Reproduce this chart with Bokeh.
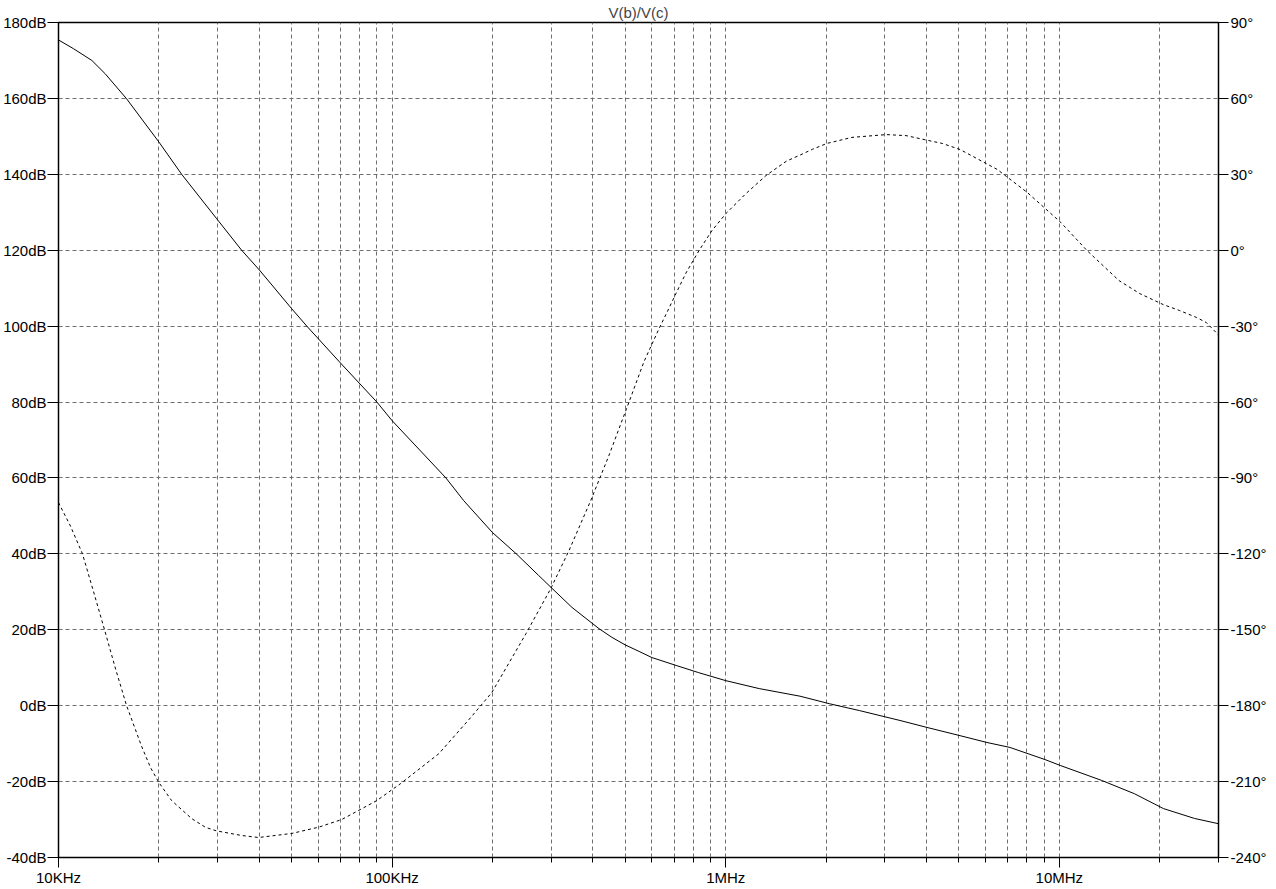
from bokeh.plotting import figure
from bokeh.models import (LinearAxis, Range1d, FixedTicker, PrintfTickFormatter,
                          SingleIntervalTicker, ColumnDataSource)
from bokeh.embed import file_html
from bokeh.resources import INLINE

# ---- data ----
title_text = "V(b)/V(c)"

mag_freq = [10e3, 11.09e3, 12.59e3, 13.8e3, 16e3, 20e3, 23.4e3, 29.8e3, 35.4e3,
            40e3, 50e3, 55.5e3, 70e3, 90e3, 100e3, 145e3, 164e3, 200e3, 235e3,
            275e3, 300e3, 346e3, 381e3, 417e3, 456e3, 500e3, 550e3, 600e3,
            710e3, 830e3, 1.0e6, 1.26e6, 1.67e6, 2.05e6, 2.52e6, 3.33e6, 4.04e6,
            5.04e6, 6.07e6, 7.11e6, 9.06e6, 10.1e6, 13.4e6, 16.8e6, 20.5e6, 25.4e6, 30e6]
mag_db = [175.4, 173.1, 170.0, 166.5, 159.9, 148.5, 140.0, 128.3, 120.0,
          114.8, 104.6, 100.0, 90.3, 80.0, 75.1, 60.0, 54.0, 45.6, 40.1,
          34.3, 31.1, 25.9, 23.0, 20.3, 18.0, 16.0, 14.3, 12.7,
          10.6, 8.7, 6.6, 4.5, 2.5, 0.5, -1.3, -3.9, -5.8,
          -7.9, -9.7, -11.0, -14.2, -15.8, -19.7, -23.2, -27.1, -29.7, -31.1]

ph_freq = [10e3, 10.86e3, 11.8e3, 12.74e3, 13.74e3, 14.83e3, 16e3, 17.74e3, 18.88e3,
           20e3, 21.83e3, 25.06e3, 27.6e3, 29.8e3, 35.4e3, 39.8e3, 50e3, 60.3e3,
           70.6e3, 90e3, 106e3, 138e3, 172e3, 199e3, 252e3, 299e3, 339e3, 394e3,
           447e3, 513e3, 569e3, 631e3, 667e3, 710e3, 760e3, 832e3, 910e3, 1.0e6,
           1.15e6, 1.32e6, 1.52e6, 1.67e6, 1.82e6, 2.01e6, 2.39e6, 3.03e6, 3.47e6,
           4.04e6, 4.46e6, 5.04e6, 6.52e6, 8.02e6, 10.1e6, 12.1e6, 13.5e6, 15.1e6,
           17.4e6, 20.5e6, 22.9e6, 25.8e6, 27.6e6, 30e6]
ph_deg = [-99.7, -109.0, -120.0, -135.0, -150.0, -165.5, -180.0, -196.0, -204.5,
          -210.4, -217.5, -224.6, -228.1, -229.5, -231.3, -232.1, -230.5, -228.0,
          -225.0, -217.5, -210.8, -199.0, -184.7, -174.8, -151.5, -133.7, -118.7, -98.9,
          -81.0, -60.0, -44.0, -31.0, -24.5, -17.0, -9.0, -0.1, 7.8, 14.4,
          22.4, 29.5, 35.2, 37.6, 39.9, 42.2, 44.6, 45.7, 45.3,
          43.4, 42.2, 39.8, 31.9, 22.8, 11.0, -0.1, -6.0, -12.0,
          -17.1, -21.5, -23.8, -26.6, -28.6, -33.5]

x_major = [1e4, 1e5, 1e6, 1e7]
x_minor = [m * d for d in (1e4, 1e5, 1e6) for m in range(2, 10)] + [2e7, 3e7]
x_labels = {10000: "10KHz", 100000: "100KHz", 1000000: "1MHz", 10000000: "10MHz"}

FONT = "Liberation Sans"
GRID = "#6e6e6e"

p = figure(frame_width=1160, frame_height=835, x_axis_type="log",
           x_range=(1e4, 3e7), y_range=(-40, 180),
           output_backend="svg", toolbar_location=None,
           min_border_left=55, min_border_right=0, min_border_top=18, min_border_bottom=0,
           title=title_text)
p.title.align = "center"
p.title.text_font = FONT
p.title.text_font_size = "15px"
p.title.text_font_style = "normal"
p.title.standoff = 3
p.outline_line_color = "black"
p.outline_line_width = 1.5
p.background_fill_color = "white"
p.border_fill_color = "white"

p.extra_y_ranges = {"phase": Range1d(-240, 90)}

# x axis
xa = p.xaxis[0]
xa.ticker = FixedTicker(ticks=x_major, minor_ticks=x_minor)
xa.major_label_overrides = x_labels
xa.major_tick_out = 10
xa.major_tick_in = 0
xa.minor_tick_out = 5
xa.minor_tick_in = 0
xa.major_label_standoff = 1

# left axis
ya = p.yaxis[0]
ya.ticker = SingleIntervalTicker(interval=20, num_minor_ticks=0)
ya.formatter = PrintfTickFormatter(format="%ddB")
ya.major_tick_out = 11
ya.major_tick_in = 0
ya.minor_tick_line_color = None
ya.major_label_standoff = 1

# right axis
ra = LinearAxis(y_range_name="phase",
                ticker=SingleIntervalTicker(interval=30, num_minor_ticks=0),
                formatter=PrintfTickFormatter(format="%d°"))
ra.major_tick_out = 10
ra.major_tick_in = 0
ra.minor_tick_line_color = None
ra.major_label_standoff = 2
p.add_layout(ra, "right")

for ax in (xa, ya, ra):
    ax.axis_line_color = "black"
    ax.major_tick_line_color = "black"
    ax.major_label_text_font = FONT
    ax.major_label_text_font_size = "15px"
    ax.major_label_text_color = "black"
xa.minor_tick_line_color = "black"

# grids
p.xgrid.grid_line_color = GRID
p.xgrid.grid_line_dash = "4 3"
p.xgrid.minor_grid_line_color = GRID
p.xgrid.minor_grid_line_dash = "4 3"
p.ygrid.grid_line_color = GRID
p.ygrid.grid_line_dash = "4 3"

mag_src = ColumnDataSource(dict(f=mag_freq, v=mag_db))
ph_src = ColumnDataSource(dict(f=ph_freq, v=ph_deg))
p.line("f", "v", source=mag_src, line_color="black", line_width=1)
p.line("f", "v", source=ph_src, line_color="black", line_width=1,
       line_dash="3 3", y_range_name="phase")

open("out.html", "w").write(file_html(p, INLINE))
